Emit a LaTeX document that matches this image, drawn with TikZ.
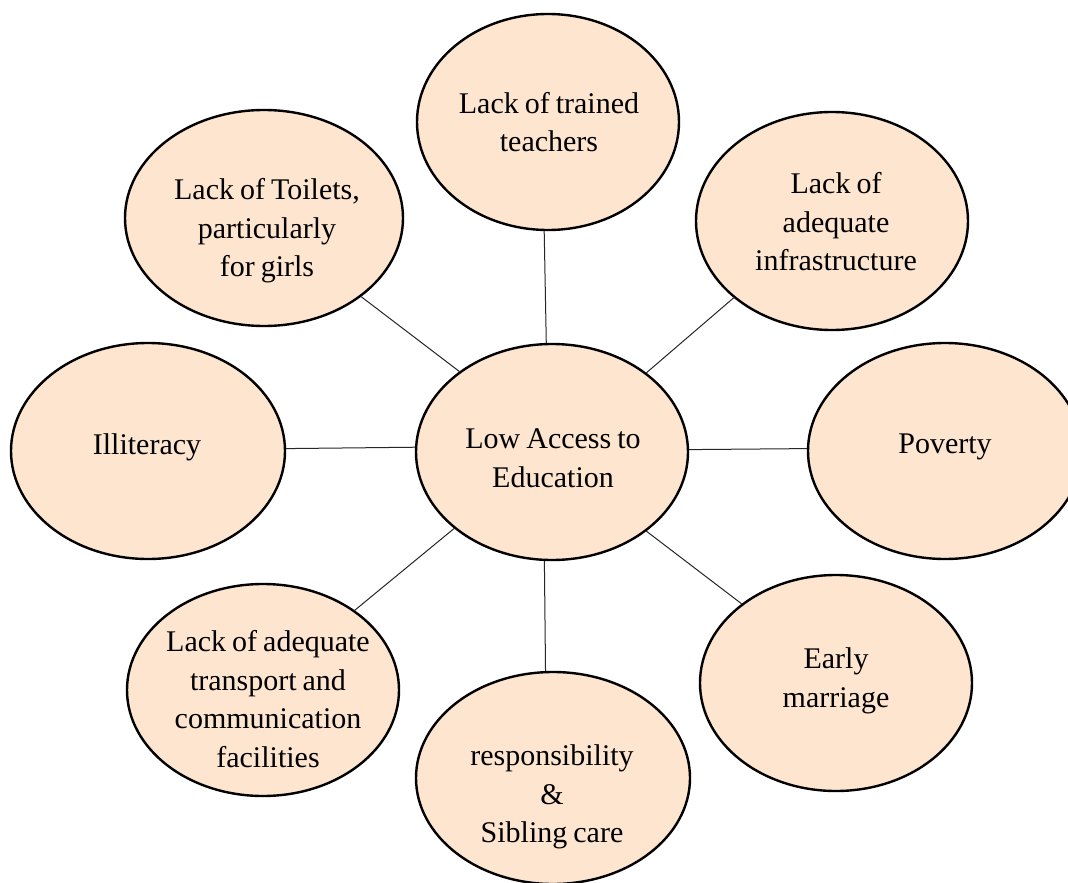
\documentclass[tikz,border=0pt]{standalone}
\usepackage{fontspec}
\setmainfont{Liberation Serif}[WordSpace={0.8,0.6,0.4}]
\usetikzlibrary{shapes.geometric,calc}
\definecolor{peach}{RGB}{253,229,207}
\tikzset{
  bubble/.style={ellipse, draw=black, line width=2.4pt, fill=peach, inner sep=0pt},
  txt/.style={align=center, inner sep=0pt, font=\fontsize{30}{38.5}\selectfont},
  link/.style={draw=black!85, line width=1pt}
}
\begin{document}
\begin{tikzpicture}[x=1pt,y=-1pt]
\useasboundingbox (0,0) rectangle (1068,883);
\fill[white] (0,0) rectangle (1068,883);
\node[bubble, minimum width=262pt, minimum height=216pt] (t) at (548,122) {};
\node[bubble, minimum width=278pt, minimum height=216pt] (tl) at (264,218) {};
\node[bubble, minimum width=272pt, minimum height=218pt] (tr) at (832,221) {};
\node[bubble, minimum width=274pt, minimum height=216pt] (l) at (148,451) {};
\node[bubble, minimum width=272pt, minimum height=216pt] (c) at (552,452) {};
\node[bubble, minimum width=274pt, minimum height=216pt] (r) at (945,451) {};
\node[bubble, minimum width=272pt, minimum height=212pt] (bl) at (263,690) {};
\node[bubble, minimum width=274pt, minimum height=212pt] (b) at (553,778) {};
\node[bubble, minimum width=272pt, minimum height=216pt] (br) at (836,683) {};

\draw[link] (c.93.7) -- (t.268.4);
\draw[link] (c.266.3) -- (b.94.3);
\draw[link] (c.178.4) -- (l.1);
\draw[link] (c.1.6) -- (r.179);
\draw[link] (c.139.9) -- (tl.321.5);
\draw[link] (c.40.4) -- (tr.218.9);
\draw[link] (c.218.7) -- (bl.41.2);
\draw[link] (c.320.9) -- (br.140.9);

\node[txt] (t-txt) at (549,122) {Lack of trained\\teachers};
\node[txt] (tl-txt) at (267,231) {Lack of Toilets,\\particularly\\for girls};
\node[txt] (tr-txt) at (836,222) {Lack of\\adequate\\infrastructure};
\node[txt] (l-txt) at (147,447) {Illiteracy};
\node[txt] (c-txt) at (553,458) {Low Access to\\Education};
\node[txt] (r-txt) at (945,447) {Poverty};
\node[txt] (bl-txt) at (268,699) {Lack of adequate\\transport and\\communication\\facilities};
\node[txt] (b-txt) at (552,797) {responsibility\\\&\\Sibling care};
\node[txt] (br-txt) at (836,681) {Early\\marriage};
\end{tikzpicture}
\end{document}
